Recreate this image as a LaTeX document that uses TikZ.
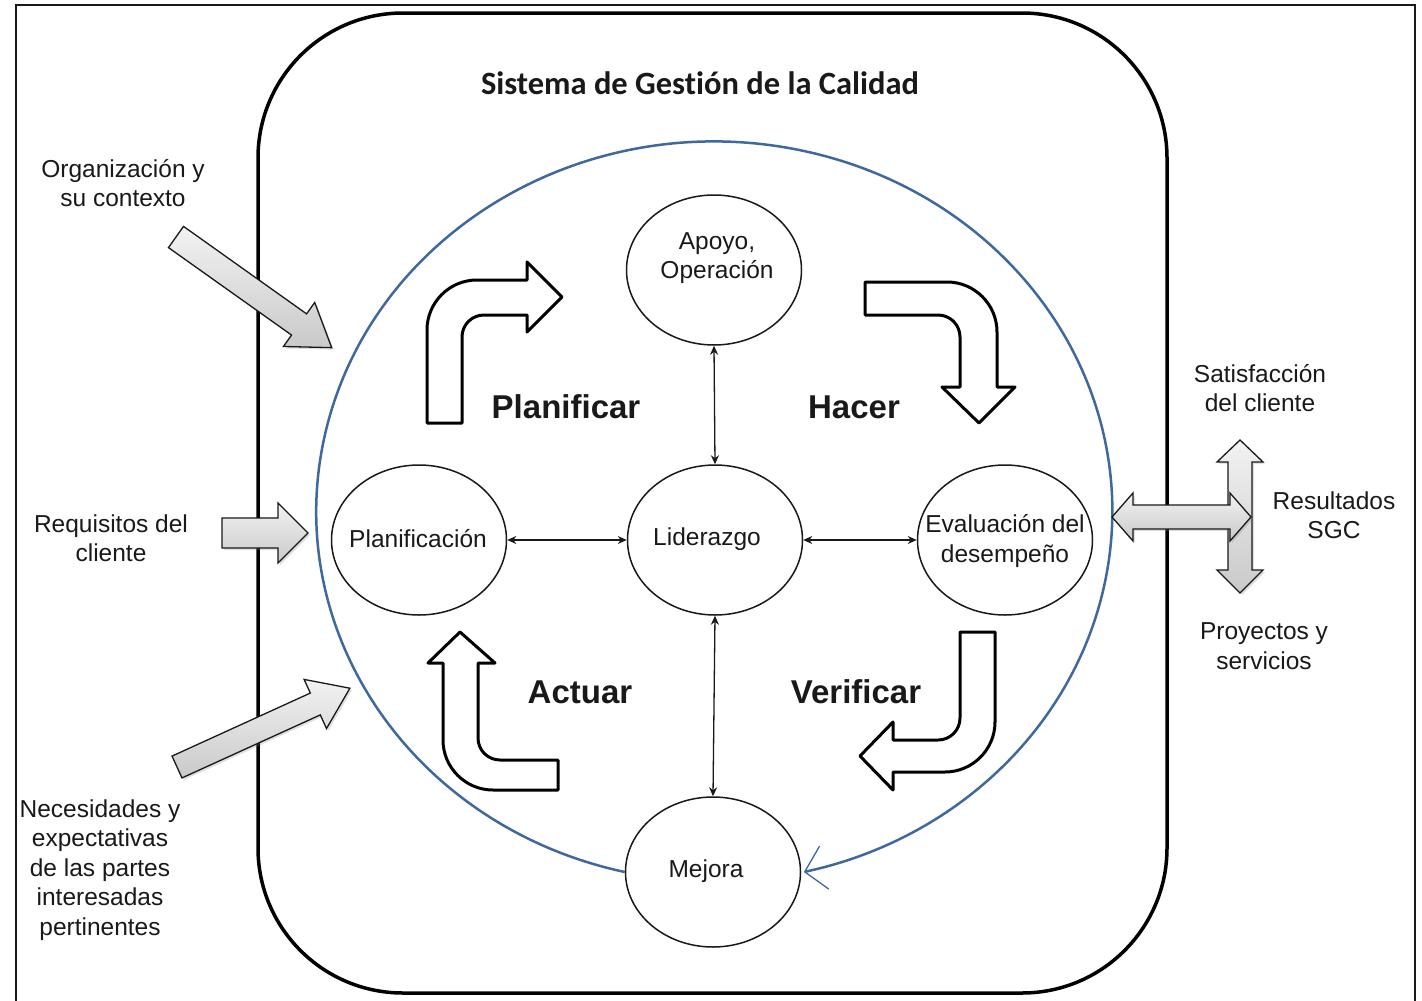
\documentclass[tikz,border=0pt]{standalone}
\usepackage{fontspec}
\setmainfont{Liberation Sans}
\newfontfamily\titlefont[Ligatures=NoCommon]{Carlito}
\usetikzlibrary{arrows.meta,shapes.geometric,shadows}

\definecolor{cycleblue}{RGB}{62,104,158}
\definecolor{ink}{RGB}{25,25,25}

\tikzset{
  stagenode/.style={ellipse,draw=ink,line width=1.5pt,minimum width=175pt,
    minimum height=150pt,inner sep=0pt},
  plaintext/.style={text=ink,align=center,inner sep=0pt,
    font=\fontsize{24.5}{29.5}\selectfont},
  phaselabel/.style={text=ink,inner sep=0pt,font=\bfseries\fontsize{33}{38}\selectfont},
  twoway/.style={ink,line width=1.3pt,
    {Stealth[length=9pt,width=8pt]}-{Stealth[length=9pt,width=8pt]}},
  bentarrow/.style={draw=black,fill=white,line width=3pt,line join=round},
  grayarrow/.style={draw=ink,line width=1.3pt,line join=miter,
    top color=gray!10,bottom color=gray!42,
    drop shadow={opacity=0.25,shadow xshift=2pt,shadow yshift=-2pt}},
  % straight block arrow along +x: length, half shaft, half head, head length
  pics/fatarrow/.style n args={4}{code={
    \path[grayarrow] (0,-#2) -- (#1-#4,-#2) -- (#1-#4,-#3) -- (#1,0)
      -- (#1-#4,#3) -- (#1-#4,#2) -- (0,#2) -- cycle;
  }},
}

\begin{document}
\begin{tikzpicture}[x=1pt,y=-1pt]
\useasboundingbox (0,0) rectangle (1422,1001);

% outer frame
\draw[ink,line width=2pt] (16,1010) -- (16,5) -- (1415,5) -- (1415,1010);

% quality management system boundary
\draw[black,line width=3.5pt,rounded corners=145pt] (258,13) rectangle (1167,993);
\node[inner sep=0pt,text=ink,font=\titlefont\bfseries\fontsize{32.5}{38}\selectfont]
  (title) at (700,83) {Sistema de Gestión de la Calidad};

% process stages
\node[stagenode] (apoyo)  at (714,270) {};
\node[stagenode] (plan)   at (419,540) {};
\node[stagenode] (lider)  at (715,540) {};
\node[stagenode] (evalua) at (1005,540) {};
\node[stagenode] (mejora) at (713,872) {};

\node[plaintext] (apoyotxt)  at (717,258) {Apoyo,\\Operación};
\node[plaintext] (plantxt)   at (418,539) {Planificación};
\node[plaintext] (lidertxt)  at (707,539) {Liderazgo};
\node[plaintext] (evaluatxt) at (1005,541) {Evaluación del\\desempeño};
\node[plaintext] (mejoratxt) at (706,871) {Mejora};

% PDCA cycle
\draw[cycleblue,line width=2.5pt,
  -{Straight Barb[length=20pt,width=44pt,line width=1.3pt]}]
  (mejora.west) arc[start angle=103,end angle=437,x radius=398,y radius=370];

% links with leadership
\draw[twoway] (apoyo.south) -- (lider.north);
\draw[twoway] (plan.east) -- (lider.west);
\draw[twoway] (lider.east) -- (evalua.west);
\draw[twoway] (lider.south) -- (mejora.north);

% bent arrows of the cycle
\draw[bentarrow] (427,423) -- (427,330) .. controls (427,302.4) and (449.4,280) .. (477,280)
  -- (527,280) -- (527,262) -- (562,297) -- (527,332) -- (527,315) -- (484,315)
  .. controls (471.8,315) and (462,324.8) .. (462,337) -- (462,423) -- cycle;
\draw[bentarrow] (865,282) -- (947,282) .. controls (974.6,282) and (997,304.4) .. (997,332)
  -- (997,387) -- (1015,387) -- (979,423) -- (942,387) -- (960,387) -- (960,337)
  .. controls (960,324.8) and (950.2,315) .. (938,315) -- (865,315) -- cycle;
\draw[bentarrow] (960,632) -- (995,632) -- (995,722) .. controls (995,749.6) and (972.4,772) .. (945,772)
  -- (893,772) -- (893,790) -- (860,756) -- (893,722) -- (893,740) -- (938,740)
  .. controls (950.2,740) and (960,730.2) .. (960,718) -- cycle;
\draw[bentarrow] (558,760) -- (558,790) -- (493,790) .. controls (465.4,790) and (443,767.6) .. (443,740)
  -- (443,663) -- (428,663) -- (460,632) -- (495,663) -- (478,663) -- (478,738)
  .. controls (478,750.2) and (487.8,760) .. (500,760) -- cycle;

\node[phaselabel] (planificar) at (566,407) {Planificar};
\node[phaselabel] (hacer)      at (854,407) {Hacer};
\node[phaselabel] (actuar)     at (580,692) {Actuar};
\node[phaselabel] (verificar)  at (856,692) {Verificar};

% inputs
\node[plaintext] (orgtxt) at (123,183) {Organización y\\su contexto};
\node[plaintext] (reqtxt) at (111,538) {Requisitos del\\cliente};
\node[plaintext] (necetxt) at (100,870)
  {Necesidades y\\expectativas\\de las partes\\interesadas\\pertinentes};
\pic[rotate=-35.4] at (176,237) {fatarrow={191}{13}{27}{40}};
\pic at (222,533) {fatarrow={86}{15}{30}{30}};
\pic[rotate=24.5] at (177,767) {fatarrow={190}{12}{27}{38}};

% outputs
\path[grayarrow] (1240,440) -- (1263,462) -- (1252,462) -- (1252,570) -- (1263,570)
  -- (1240,593) -- (1217,570) -- (1228,570) -- (1228,462) -- (1217,462) -- cycle;
\path[grayarrow] (1112,517) -- (1133,493) -- (1133,505) -- (1230,505) -- (1230,493)
  -- (1251,517) -- (1230,541) -- (1230,529) -- (1133,529) -- (1133,541) -- cycle;

\node[plaintext] (sattxt)  at (1260,388) {Satisfacción\\del cliente};
\node[plaintext] (restxt)  at (1334,515) {Resultados\\SGC};
\node[plaintext] (proytxt) at (1264,646) {Proyectos y\\servicios};
\end{tikzpicture}
\end{document}
